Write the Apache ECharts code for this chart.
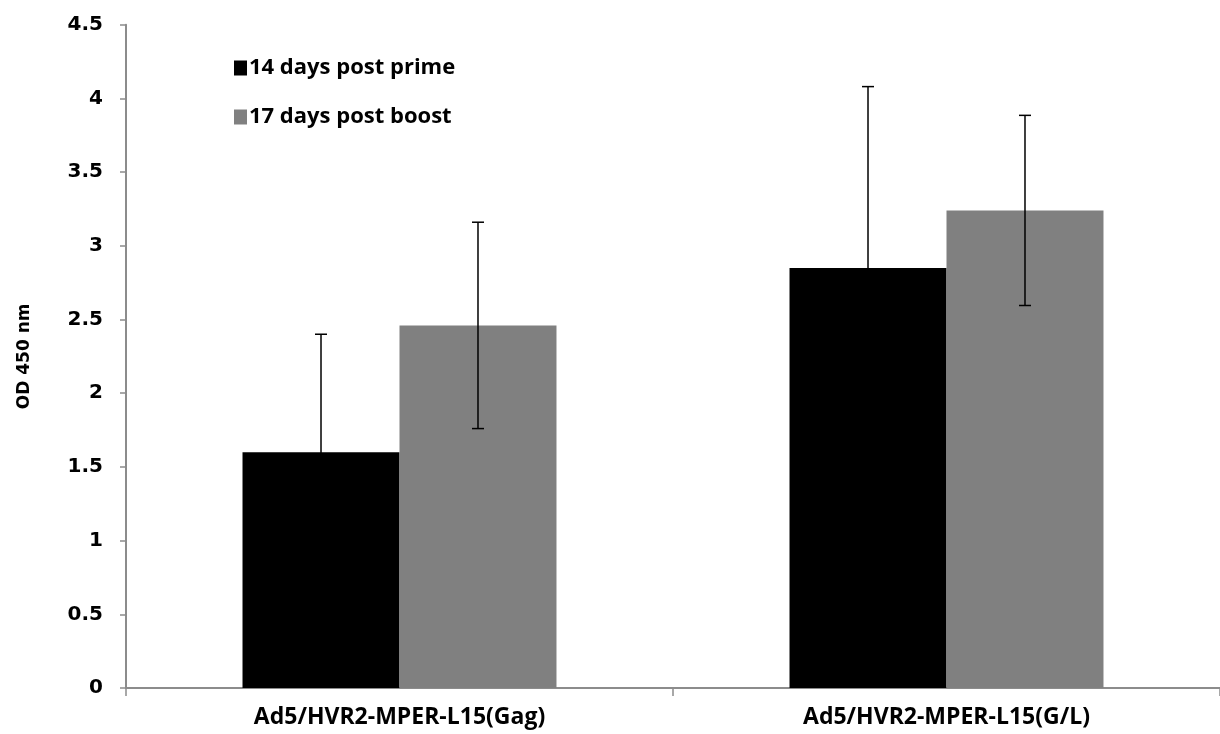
<!DOCTYPE html>
<html>
<head>
<meta charset="utf-8">
<script src="https://cdn.jsdelivr.net/npm/echarts@6/dist/echarts.min.js"></script>
<style>
  html, body { margin: 0; padding: 0; background: #fff; }
  #chart { width: 1220px; height: 734px; }
</style>
</head>
<body>
<div id="chart"></div>
<script>
const categories = ['Ad5/HVR2-MPER-L15(Gag)', 'Ad5/HVR2-MPER-L15(G/L)'];
const seriesNames = ['14 days post prime', '17 days post boost'];
const primeValues = [1.60, 2.85];
const boostValues = [2.46, 3.24];
const primeErrors = [0.80, 1.23];
const boostErrors = [0.70, 0.645];
const yTicks = [0, 0.5, 1, 1.5, 2, 2.5, 3, 3.5, 4, 4.5];

const chart = echarts.init(document.getElementById('chart'));

const GAP = 0.426; // bar category gap fraction
const barFrac = (1 - GAP) / 2;

function errorSeries(values, errors, idx) {
  return {
    type: 'custom',
    name: seriesNames[idx] + ' error',
    z: 10,
    silent: true,
    data: values.map((v, i) => [i, v - errors[i], v + errors[i]]),
    renderItem: function (params, api) {
      const band = api.size([1, 0])[0];
      const off = (idx === 0 ? -1 : 1) * band * barFrac / 2;
      const lo = api.coord([api.value(0), api.value(1)]);
      const hi = api.coord([api.value(0), api.value(2)]);
      const x = lo[0] + off;
      const cap = 6;
      const style = { stroke: '#000', lineWidth: 1.5 };
      return {
        type: 'group',
        children: [
          { type: 'line', shape: { x1: x, y1: hi[1], x2: x, y2: lo[1] }, style: style },
          { type: 'line', shape: { x1: x - cap, y1: hi[1], x2: x + cap, y2: hi[1] }, style: style },
          { type: 'line', shape: { x1: x - cap, y1: lo[1], x2: x + cap, y2: lo[1] }, style: style }
        ]
      };
    }
  };
}

const option = {
  backgroundColor: '#fff',
  animation: false,
  grid: { left: 126, width: 1098, top: 24.7, bottom: 46, containLabel: false },
  legend: {
    data: seriesNames.map(n => ({ name: n, icon: 'rect' })),
    orient: 'vertical',
    left: 229,
    top: 52,
    itemWidth: 13,
    itemHeight: 15,
    itemGap: 27,
    textStyle: { fontFamily: 'Open Sans', fontWeight: 'bold', fontSize: 22, color: '#000', padding: [0, 0, 0, -3] }
  },
  xAxis: {
    type: 'category',
    data: categories,
    axisLine: { lineStyle: { color: '#8c8c8c', width: 2 } },
    axisTick: { show: true, length: 8, lineStyle: { color: '#8c8c8c', width: 1.5 } },
    axisLabel: { margin: 18, fontFamily: 'Open Sans', fontWeight: 'bold', fontSize: 23, color: '#000' }
  },
  yAxis: {
    type: 'value',
    min: 0,
    max: 4.5,
    interval: 0.5,
    name: 'OD 450 nm',
    nameLocation: 'middle',
    nameGap: 93,
    nameRotate: 90,
    nameTextStyle: { fontFamily: 'DejaVu Sans', fontWeight: 'bold', fontSize: 17, color: '#000' },
    axisLine: { show: true, lineStyle: { color: '#8c8c8c', width: 2 } },
    axisTick: { show: true, length: 6, lineStyle: { color: '#8c8c8c', width: 1.5 } },
    splitLine: { show: false },
    axisLabel: {
      margin: 23,
      fontFamily: 'DejaVu Sans', fontWeight: 'bold', fontSize: 20, color: '#000',
      formatter: v => String(yTicks.find(t => Math.abs(t - v) < 1e-9) ?? v)
    }
  },
  series: [
    {
      type: 'bar',
      name: seriesNames[0],
      data: primeValues,
      itemStyle: { color: '#000000' },
      barGap: '0%',
      barCategoryGap: (GAP * 100) + '%'
    },
    {
      type: 'bar',
      name: seriesNames[1],
      data: boostValues,
      itemStyle: { color: '#808080' },
      barGap: '0%',
      barCategoryGap: (GAP * 100) + '%'
    },
    errorSeries(primeValues, primeErrors, 0),
    errorSeries(boostValues, boostErrors, 1)
  ]
};

chart.setOption(option);
</script>
</body>
</html>
